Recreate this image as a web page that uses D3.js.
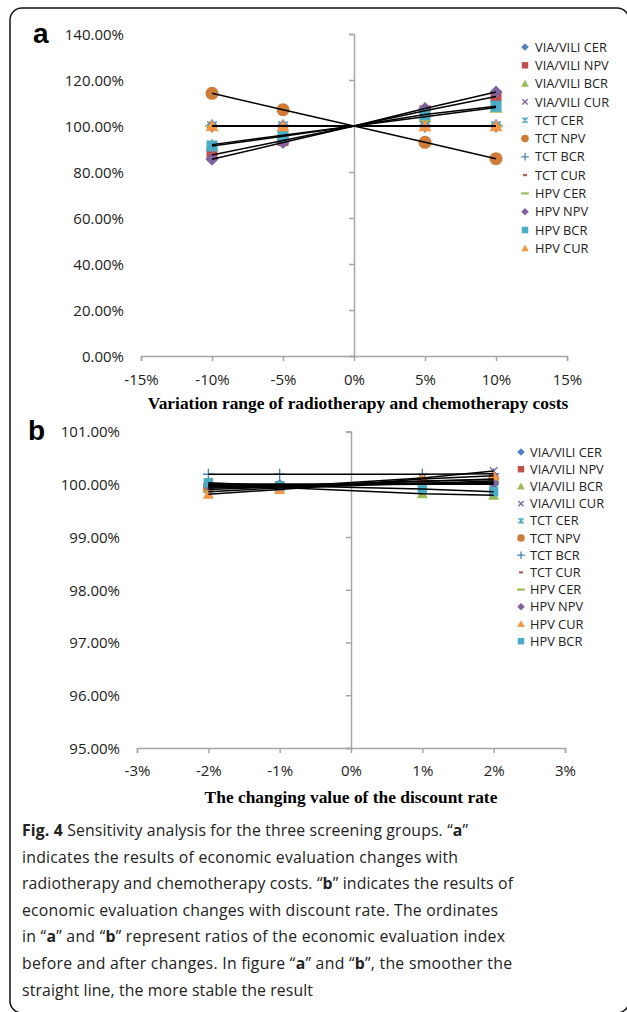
<!DOCTYPE html>
<html>
<head>
<meta charset="utf-8">
<script src="https://cdn.jsdelivr.net/npm/d3@7"></script>
<style>
  html, body { margin: 0; padding: 0; background: #fff; }
  svg { display: block; }
  .tick text { font-family: "Open Sans", sans-serif; fill: #222; }
</style>
</head>
<body>
<svg id="chart" width="627" height="1012"></svg>
<script>
// series names (legend order of panel a) and colours / marker shapes
const seriesNames = ['VIA/VILI CER', 'VIA/VILI NPV', 'VIA/VILI BCR', 'VIA/VILI CUR',
  'TCT CER', 'TCT NPV', 'TCT BCR', 'TCT CUR', 'HPV CER', 'HPV NPV', 'HPV BCR', 'HPV CUR'];
const seriesShapes = ['diamond', 'square', 'triangle', 'x', 'star', 'circle', 'plus', 'dash', 'longdash', 'diamond', 'square', 'triangle'];
const seriesColors = ['#4F81BD', '#C0504D', '#9BBB59', '#8064A2', '#4BACC6', '#CE7C37',
  '#4F81BD', '#C0504D', '#9BBB59', '#8064A2', '#4BACC6', '#F79646'];

// panel a: change of radiotherapy/chemotherapy costs (%), ratio (%)
const xA = [-10, -5, 0, 5, 10];
const valuesA = {
  'VIA/VILI CER': [100, 100, 100, 100, 100],
  'VIA/VILI NPV': [87.4, 93.7, 100, 106.6, 112.8],
  'VIA/VILI BCR': [91.9, 96.0, 100, 104.0, 108.0],
  'VIA/VILI CUR': [100, 100, 100, 100, 100],
  'TCT CER': [100, 100, 100, 100, 100],
  'TCT NPV': [114.2, 107.1, 100, 92.9, 85.8],
  'TCT BCR': [100, 100, 100, 100, 100],
  'TCT CUR': [100, 100, 100, 100, 100],
  'HPV CER': [100, 100, 100, 100, 100],
  'HPV NPV': [85.5, 92.8, 100, 107.6, 114.8],
  'HPV BCR': [91.3, 95.5, 100, 105.0, 108.6],
  'HPV CUR': [100, 100, 100, 100, 100]
};
const yTicksA = [0, 20, 40, 60, 80, 100, 120, 140];
const xTicksA = [-15, -10, -5, 0, 5, 10, 15];

// panel b: change of discount rate (%), ratio (%)
const xB = [-2, -1, 1, 2];
const valuesB = {
  'VIA/VILI CER': [100.0, 100.0, 100.0, 100.0],
  'VIA/VILI NPV': [99.95, 99.97, 100.05, 100.10],
  'VIA/VILI BCR': [99.97, 99.94, 99.82, 99.79],
  'VIA/VILI CUR': [99.90, 99.95, 100.12, 100.25],
  'TCT CER': [99.98, 99.98, 100.02, 100.03],
  'TCT NPV': [99.93, 99.96, 100.06, 100.09],
  'TCT BCR': [100.19, 100.19, 100.19, 100.20],
  'TCT CUR': [100.0, 100.0, 100.0, 100.0],
  'HPV CER': [99.86, 99.93, 100.02, 100.06],
  'HPV NPV': [99.97, 99.98, 100.0, 100.03],
  'HPV CUR': [99.81, 99.90, 100.10, 100.16],
  'HPV BCR': [100.03, 99.97, 99.91, 99.86]
};
const legendOrderB = ['VIA/VILI CER', 'VIA/VILI NPV', 'VIA/VILI BCR', 'VIA/VILI CUR',
  'TCT CER', 'TCT NPV', 'TCT BCR', 'TCT CUR', 'HPV CER', 'HPV NPV', 'HPV CUR', 'HPV BCR'];
const yTicksB = [95, 96, 97, 98, 99, 100, 101];
const xTicksB = [-3, -2, -1, 0, 1, 2, 3];

const captionLines = [
  '**Fig. 4** Sensitivity analysis for the three screening groups. “**a**”',
  'indicates the results of economic evaluation changes with',
  'radiotherapy and chemotherapy costs. “**b**” indicates the results of',
  'economic evaluation changes with discount rate. The ordinates',
  'in “**a**” and “**b**” represent ratios of the economic evaluation index',
  'before and after changes. In figure “**a**” and “**b**”, the smoother the',
  'straight line, the more stable the result'
];
const captionWidths = [446, 436, 491, 476, 483, 490, 291];

const svg = d3.select('#chart');
const axisColor = '#A6A6A6';

// outer frame
svg.append('rect')
  .attr('x', 10).attr('y', 8).attr('width', 619).attr('height', 1005)
  .attr('rx', 12).attr('ry', 12)
  .attr('fill', 'none').attr('stroke', '#111').attr('stroke-width', 1.5);

function markerPath(shape, r) {
  switch (shape) {
    case 'diamond': return `M0,${-r}L${r},0L0,${r}L${-r},0Z`;
    case 'square': return `M${-r * 0.85},${-r * 0.85}h${r * 1.7}v${r * 1.7}h${-r * 1.7}Z`;
    case 'triangle': return `M0,${-r}L${r},${r * 0.8}L${-r},${r * 0.8}Z`;
    case 'x': return `M${-r * 0.7},${-r * 0.7}L${r * 0.7},${r * 0.7}M${-r * 0.7},${r * 0.7}L${r * 0.7},${-r * 0.7}`;
    case 'star': return `M${-r * 0.7},${-r * 0.7}L${r * 0.7},${r * 0.7}M${-r * 0.7},${r * 0.7}L${r * 0.7},${-r * 0.7}M0,${-r * 0.8}L0,${r * 0.8}`;
    case 'plus': return `M${-r},0L${r},0M0,${-r}L0,${r}`;
    case 'dash': return `M${-r * 0.5},0L${r * 0.5},0`;
    case 'longdash': return `M${-r},0L${r},0`;
    case 'circle': return d3.symbol(d3.symbolCircle, Math.PI * r * r)();
  }
}
const strokeShapes = new Set(['x', 'star', 'plus', 'dash', 'longdash']);

function drawMarker(g, shape, color, r) {
  const p = g.append('path').attr('d', markerPath(shape, r));
  if (strokeShapes.has(shape)) {
    p.attr('fill', 'none').attr('stroke', color)
      .attr('stroke-width', shape === 'dash' || shape === 'longdash' ? 2.2 : 1.3);
  } else {
    p.attr('fill', color);
  }
}

function drawPanel(opt) {
  const x = d3.scaleLinear().domain(opt.xDomain).range(opt.xRange);
  const y = d3.scaleLinear().domain(opt.yDomain).range(opt.yRange);
  const g = svg.append('g');

  // y tick labels at the far left
  g.append('g')
    .attr('transform', `translate(${opt.yLabelX},0)`)
    .call(d3.axisLeft(y).tickValues(opt.yTicks).tickSize(0).tickPadding(0)
      .tickFormat(d => d3.format('.2f')(d) + '%'))
    .call(a => a.select('.domain').remove())
    .call(a => a.selectAll('text').attr('font-size', 15).attr('dy', '0.36em'));

  // y axis line at x = 0
  g.append('g')
    .attr('transform', `translate(${x(0)},0)`)
    .call(d3.axisLeft(y).tickValues(opt.yTicks).tickSize(5).tickSizeOuter(5).tickFormat(''))
    .call(a => a.selectAll('path,line').attr('stroke', axisColor).attr('stroke-width', 1.5));

  // x axis at the bottom of the y range
  g.append('g')
    .attr('transform', `translate(0,${y(opt.yDomain[0])})`)
    .call(d3.axisBottom(x).tickValues(opt.xTicks).tickSize(5).tickSizeOuter(5).tickPadding(opt.xPad)
      .tickFormat(d => d + '%'))
    .call(a => a.selectAll('path,line').attr('stroke', axisColor).attr('stroke-width', 1.5))
    .call(a => a.selectAll('text').attr('font-size', 15));

  // markers first, lines drawn over them
  const order = opt.drawOrder;
  order.forEach(name => {
    const i = seriesNames.indexOf(name);
    opt.values[name].forEach((v, k) => {
      if (opt.xs[k] === 0) return;
      const mg = g.append('g').attr('transform', `translate(${x(opt.xs[k])},${y(v)})`);
      drawMarker(mg, seriesShapes[i], seriesColors[i], opt.markerR);
    });
  });
  const line = d3.line().x((d, k) => x(opt.xs[k])).y(d => y(d));
  order.forEach(name => {
    g.append('path').datum(opt.values[name])
      .attr('d', line).attr('fill', 'none')
      .attr('stroke', '#000').attr('stroke-width', 1.5);
  });

  // legend
  const lg = g.append('g');
  opt.legend.forEach((name, k) => {
    const i = seriesNames.indexOf(name);
    const ly = opt.legendY + k * opt.legendStep;
    const mg = lg.append('g').attr('transform', `translate(${opt.legendX},${ly})`);
    drawMarker(mg, seriesShapes[i], seriesColors[i], 3.8);
    lg.append('text')
      .attr('x', opt.legendX + opt.legendGap).attr('y', ly).attr('dy', '0.36em')
      .attr('font-family', '"Open Sans", sans-serif').attr('font-size', 12.8)
      .attr('fill', '#222').text(name);
  });

  // x axis title
  g.append('text')
    .attr('x', opt.titleX).attr('y', opt.titleY)
    .attr('text-anchor', 'middle')
    .attr('font-family', '"Liberation Serif", "Times New Roman", serif')
    .attr('font-weight', 'bold').attr('font-size', 17.4)
    .text(opt.title);

  // panel letter
  g.append('text')
    .attr('x', opt.letterX).attr('y', opt.letterY)
    .attr('font-family', '"Liberation Sans", Arial, sans-serif')
    .attr('font-weight', 'bold').attr('font-size', 28)
    .text(opt.letter);
}

drawPanel({
  letter: 'a', letterX: 33, letterY: 43,
  xs: xA, values: valuesA, drawOrder: seriesNames,
  xDomain: [-15, 15], xRange: [141, 567],
  yDomain: [0, 140], yRange: [356, 34],
  yTicks: yTicksA, xTicks: xTicksA, yLabelX: 124, xPad: 13,
  markerR: 6.5,
  legend: seriesNames, legendX: 525, legendY: 47, legendStep: 18.3, legendGap: 10,
  title: 'Variation range of radiotherapy and chemotherapy costs', titleX: 358, titleY: 409
});

drawPanel({
  letter: 'b', letterX: 28, letterY: 440,
  xs: xB, values: valuesB, drawOrder: legendOrderB,
  xDomain: [-3, 3], xRange: [137, 565],
  yDomain: [95, 101], yRange: [748, 431.5],
  yTicks: yTicksB, xTicks: xTicksB, yLabelX: 120, xPad: 12,
  markerR: 5.5,
  legend: legendOrderB, legendX: 521, legendY: 452, legendStep: 17.2, legendGap: 9,
  title: 'The changing value of the discount rate', titleX: 351, titleY: 803
});

// caption
const cap = svg.append('g');
captionLines.forEach((line, k) => {
  const t = cap.append('text')
    .attr('x', 22).attr('y', 836 + k * 26.6)
    .attr('font-family', '"Open Sans", sans-serif').attr('font-size', 15.8)
    .attr('fill', '#222')
    .attr('textLength', captionWidths[k]).attr('lengthAdjust', 'spacing');
  line.split('**').forEach((seg, j) => {
    if (!seg) return;
    t.append('tspan').attr('font-weight', j % 2 ? 'bold' : 'normal').text(seg);
  });
});
</script>
</body>
</html>
